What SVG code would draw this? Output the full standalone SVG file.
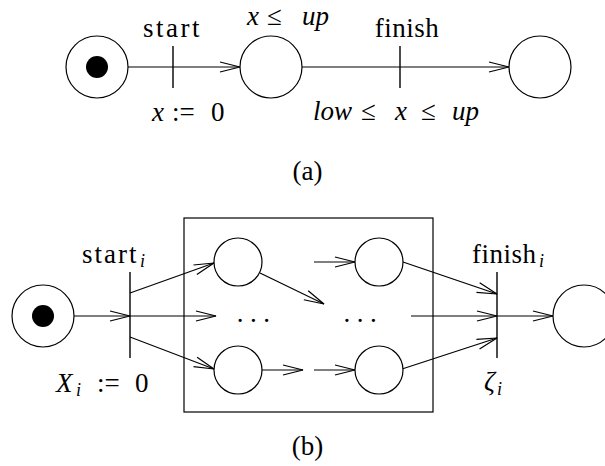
<svg xmlns="http://www.w3.org/2000/svg" width="605" height="466" viewBox="0 0 605 466">
<style>
  .pl { fill: #fff; stroke: #000; stroke-width: 1.2; }
  .tok { fill: #000; }
  .bar { stroke: #000; stroke-width: 1.4; }
  .box { fill: none; stroke: #000; stroke-width: 1.2; }
  .cn { stroke: #000; stroke-width: 1.2; fill: none; }
  .ar { marker-end: url(#ah); }
  .it { font-style: italic; }
  .sub { font-size: 18px; font-style: italic; }
</style>
<defs>
  <marker id="ah" markerUnits="userSpaceOnUse" markerWidth="24" markerHeight="14" viewBox="-22 -7 24 14" refX="0" refY="0" orient="auto">
    <path d="M-20,-5 L0,0 L-20,5" fill="none" stroke="#000" stroke-width="1.2"/>
  </marker>
</defs>
<rect width="605" height="466" fill="#fff"/>
<g font-family="Liberation Serif, serif" font-size="27" fill="#000">
<!-- (a) -->
<g id="connectors-a">
  <line class="cn ar" x1="128" y1="67" x2="240" y2="67"/>
  <line class="cn ar" x1="302" y1="67" x2="509" y2="67"/>
</g>
<g id="a-init"><circle class="pl" cx="97" cy="67" r="31"/><circle class="tok" cx="97" cy="67" r="11"/></g>
<g id="a-start"><line class="bar" x1="173" y1="46" x2="173" y2="88"/>
  <text x="172.5" y="37" text-anchor="middle" letter-spacing="2.5">start</text>
  <text x="152" y="121" class="it">x</text><text x="172" y="121">:=</text><text x="211" y="121">0</text>
</g>
<g id="a-run"><circle class="pl" cx="271" cy="67" r="31"/>
  <text x="247" y="25" class="it">x</text><text x="267" y="25">≤</text><text x="302" y="25" class="it">up</text>
</g>
<g id="a-finish"><line class="bar" x1="400" y1="46" x2="400" y2="88"/>
  <text x="407" y="37" text-anchor="middle" letter-spacing="0.5">finish</text>
  <text x="313" y="120" class="it">low</text><text x="361" y="120">≤</text><text x="395" y="120" class="it">x</text><text x="421" y="120">≤</text><text x="452" y="120" class="it">up</text>
</g>
<g id="a-end"><circle class="pl" cx="540" cy="67" r="31"/></g>
<text x="307.5" y="180" text-anchor="middle">(a)</text>

<!-- (b) -->
<g id="b-box"><rect class="box" x="184" y="218" width="249" height="194"/></g>
<g id="connectors-b">
  <line class="cn ar" x1="74" y1="316" x2="130" y2="316"/>
  <line class="cn ar" x1="130" y1="316" x2="216" y2="316"/>
  <line class="cn ar" x1="130" y1="293" x2="214" y2="263"/>
  <line class="cn ar" x1="130" y1="337" x2="214" y2="369"/>
  <line class="cn ar" x1="260" y1="273" x2="324" y2="304"/>
  <line class="cn ar" x1="314" y1="262" x2="355" y2="262"/>
  <line class="cn ar" x1="262" y1="370" x2="303" y2="370"/>
  <line class="cn ar" x1="314" y1="370" x2="355" y2="370"/>
  <line class="cn ar" x1="403" y1="262" x2="497" y2="294"/>
  <line class="cn ar" x1="402" y1="369" x2="497" y2="338"/>
  <line class="cn ar" x1="411" y1="316" x2="497" y2="316"/>
  <line class="cn ar" x1="497" y1="316" x2="553" y2="316"/>
</g>
<g id="b-init"><circle class="pl" cx="43" cy="316" r="31"/><circle class="tok" cx="43" cy="316" r="11"/></g>
<g id="b-start"><line class="bar" x1="130" y1="272" x2="130" y2="358"/>
  <text x="82" y="263" letter-spacing="2">start</text><text x="140" y="267" class="sub">i</text>
  <text x="56" y="392" class="it">X</text><text x="76" y="396" class="sub">i</text><text x="97" y="392">:=</text><text x="135" y="392">0</text>
</g>
<g id="b-p1"><circle class="pl" cx="238" cy="262" r="24"/></g>
<g id="b-p2"><circle class="pl" cx="379" cy="262" r="24"/></g>
<g id="b-p3"><circle class="pl" cx="238" cy="370" r="24"/></g>
<g id="b-p4"><circle class="pl" cx="379" cy="370" r="24"/></g>
<text x="236.75" y="321.5" letter-spacing="6.5">...</text>
<text x="343.5" y="321.5" letter-spacing="6.5">...</text>
<g id="b-finish"><line class="bar" x1="497" y1="272" x2="497" y2="358"/>
  <text x="472" y="263" letter-spacing="0.5">finish</text><text x="539" y="267" class="sub">i</text>
  <text x="484" y="390" class="it">ζ</text><text x="497" y="395" class="sub">i</text>
</g>
<g id="b-end"><circle class="pl" cx="584" cy="316" r="31"/></g>
<text x="307.5" y="455" text-anchor="middle">(b)</text>
</g>
</svg>
